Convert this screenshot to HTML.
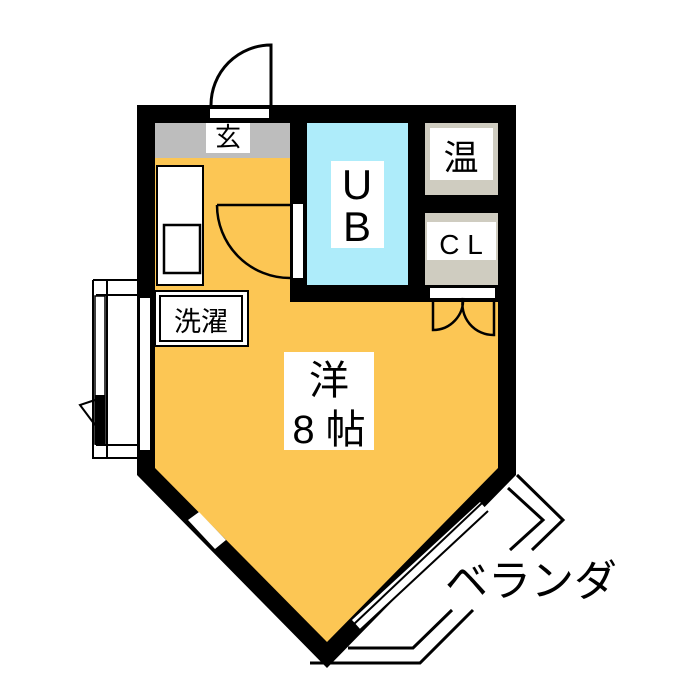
<!DOCTYPE html><html><head><meta charset="utf-8"><style>body{margin:0;background:#fff}svg{display:block}text{font-family:"Liberation Sans","Noto Sans CJK JP",sans-serif}</style></head><body>
<svg width="700" height="700" viewBox="0 0 700 700">
<polygon points="137,105 516,105 516,475 327,668 137,475" fill="#000"/>
<polygon points="155,123 498,123 498,468 327,642 155,468" fill="#fcc654"/>
<rect x="155" y="123" width="135" height="35" fill="#bdbdbd"/>
<rect x="206" y="123" width="44" height="30" fill="#fff"/>
<text x="228" y="146" font-size="26" text-anchor="middle">玄</text>
<rect x="210" y="109" width="59" height="9" fill="#fff"/>
<path d="M271,105 V45 A60,60 0 0 0 211,105" fill="none" stroke="#000" stroke-width="3"/>
<rect x="290" y="123" width="17" height="179" fill="#000"/>
<rect x="290" y="285" width="208" height="17" fill="#000"/>
<rect x="408" y="123" width="17" height="170" fill="#000"/>
<rect x="425" y="195" width="73" height="18" fill="#000"/>
<rect x="307" y="123" width="101" height="162" fill="#aeecfa"/>
<rect x="331" y="161" width="53" height="87" fill="#fff"/>
<text x="357" y="199" font-size="42" text-anchor="middle">U</text>
<text x="357" y="241" font-size="42" text-anchor="middle">B</text>
<rect x="425" y="123" width="73" height="72" fill="#cfccc0"/>
<rect x="430" y="128" width="63" height="52" fill="#fff"/>
<text x="461" y="170" font-size="35" text-anchor="middle">温</text>
<rect x="425" y="213" width="73" height="72" fill="#cfccc0"/>
<rect x="427" y="222" width="69" height="38" fill="#fff"/>
<text x="461" y="254" font-size="28" text-anchor="middle">C L</text>
<rect x="430" y="288" width="65" height="10" fill="#fff"/>
<path d="M433,298 V330 A30,30 0 0 0 463,298 M494,298 V335 A31,31 0 0 1 463,298" fill="none" stroke="#000" stroke-width="2.5"/>
<rect x="157" y="166" width="46" height="119" fill="#fff" stroke="#000" stroke-width="2"/>
<rect x="164" y="225" width="36" height="48" fill="#fff" stroke="#000" stroke-width="2.5"/>
<rect x="293" y="204" width="10" height="74" fill="#fff"/>
<path d="M217,205 H290 M217,205 A73,73 0 0 0 290,278" fill="none" stroke="#000" stroke-width="2.5"/>
<rect x="155" y="291" width="93" height="55" fill="#fff" stroke="#000" stroke-width="2"/>
<rect x="160" y="296" width="82" height="45" fill="#fff" stroke="#000" stroke-width="2"/>
<text x="201" y="331" font-size="27" text-anchor="middle">洗濯</text>
<rect x="140" y="298" width="10" height="152" fill="#fff"/>
<path d="M93,280 H137 M93,280 V458 H137 M107,280 V458 M96,295 H137 M96,445 H137" fill="none" stroke="#000" stroke-width="2"/>
<rect x="95" y="296" width="10" height="148" fill="#fff" stroke="#000" stroke-width="1.5"/>
<rect x="95" y="395" width="10" height="50" fill="#000"/>
<path d="M95,400 L80,405 L95,425" fill="none" stroke="#000" stroke-width="2"/>
<rect x="284" y="352" width="90" height="98" fill="#fff"/>
<text x="329" y="394" font-size="40" text-anchor="middle">洋</text>
<text x="329" y="443" font-size="40" text-anchor="middle">8 帖</text>
<polygon points="188,520 199,512 226,540 215,549" fill="#fff"/>
<polygon points="480,502 489,512 361,630 352,620" fill="#fff"/>
<path d="M482,503 L353,625 M488,511 L359,631" stroke="#000" stroke-width="2"/>
<path d="M517,475 L563,520 L532,550 M508,488 L543,520 L510,550 M473,610 L420,663 L310,663 M452,610 L413,648 L348,648" fill="none" stroke="#000" stroke-width="3"/>
<text x="445" y="596" font-size="43">ベランダ</text>
</svg></body></html>
